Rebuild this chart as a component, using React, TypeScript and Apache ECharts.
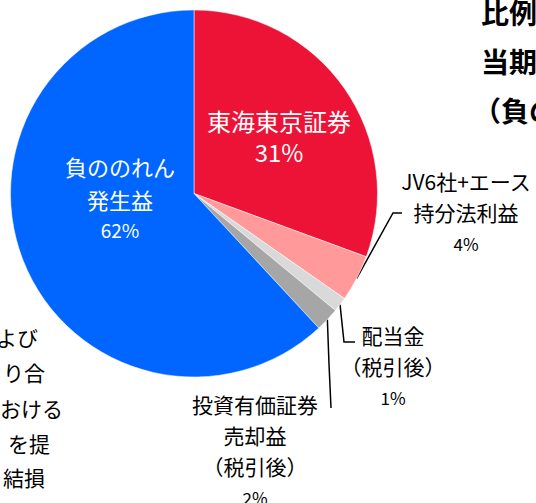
import React, { useEffect, useRef } from "react";
import * as echarts from "echarts";

const categories = [
  "東海東京証券",
  "JV6社+エース\n持分法利益",
  "配当金\n（税引後）",
  "投資有価証券\n売却益\n（税引後）",
  "負ののれん\n発生益",
];
const values = [30.6, 4.1, 1.3, 2.1, 61.9];
const sliceColors = ["#EC1337", "#FF999A", "#D9D9D9", "#A6A6A6", "#0066FF"];
const headingLines = ["比例", "当期", "（負の"];
const sideTextLines = ["よび", "り合", "おける", "を提", "結損"];

const FONT = "'Noto Sans CJK JP', 'Noto Sans', sans-serif";

export default function App() {
  const ref = useRef<HTMLDivElement>(null);

  useEffect(() => {
    if (!ref.current) return;
    const chart = echarts.init(ref.current, undefined, { renderer: "svg" });

    const inside = [0, 4];
    const spots: any[] = [
      { x: 279, y: 136, v: "middle" },
      { x: 466, y: 165, v: "top", pts: [[393, 213], [402, 213]] },
      { x: 393, y: 319, v: "top", pts: [[344, 342], [355, 342]] },
      { x: 255, y: 388, v: "top", pts: [[329, 364], [331, 408]] },
      { x: 120, y: 149, v: "top" },
    ];

    const richFor = (i: number) => {
      if (i === 0)
        return {
          n: { fontSize: 24, lineHeight: 31, color: "#fff", fontFamily: FONT, align: "center" },
          p: { fontSize: 24, lineHeight: 31, color: "#fff", fontFamily: FONT, align: "center" },
        };
      if (i === 4)
        return {
          n: { fontSize: 22, lineHeight: 33, color: "#fff", fontFamily: FONT, align: "center" },
          p: { fontSize: 19, lineHeight: 28, color: "#fff", fontFamily: FONT, align: "center" },
        };
      return {
        n: { fontSize: 21, lineHeight: 31, color: "#000", fontFamily: FONT, align: "center" },
        p: { fontSize: 17, lineHeight: 32, color: "#000", fontFamily: FONT, align: "center" },
      };
    };

    const data = categories.map((name, i) => ({
      name,
      value: values[i],
      itemStyle: { color: sliceColors[i] },
      label: {
        show: true,
        position: inside.includes(i) ? "inside" : "outside",
        rich: richFor(i),
      },
      labelLine: {
        show: !inside.includes(i),
        lineStyle: { color: "#000", width: 1.5 },
      },
    }));

    const headingX = [481, 481, 473];

    chart.setOption({
      animation: false,
      series: [
        {
          type: "pie",
          center: [194, 193.5],
          radius: [0, 183.5],
          startAngle: 90,
          clockwise: true,
          avoidLabelOverlap: false,
          itemStyle: { borderColor: "#fff", borderWidth: 0.5 },
          label: {
            formatter: (p: any) => `{n|${p.name}}\n{p|${Math.round(p.percent)}%}`,
            fontFamily: FONT,
          },
          labelLayout: (p: any) => {
            const s = spots[p.dataIndex];
            const res: any = { x: s.x, y: s.y, align: "center", verticalAlign: s.v };
            if (s.pts && p.labelLinePoints && p.labelLinePoints[0]) {
              res.labelLinePoints = [p.labelLinePoints[0], ...s.pts];
            }
            return res;
          },
          data,
        },
      ],
      graphic: [
        ...headingLines.map((t, i) => ({
          type: "text",
          x: headingX[i],
          y: 12 + i * 49,
          style: {
            text: t,
            fill: "#000",
            font: `bold 28px ${FONT}`,
            textVerticalAlign: "middle",
          },
        })),
        ...sideTextLines.map((t, i) => {
          const ends = [38, 45, 63, 50, 45];
          const ys = [337, 372, 408, 443, 477];
          return {
            type: "text",
            x: ends[i],
            y: ys[i],
            style: {
              text: t,
              fill: "#000",
              font: `21px ${FONT}`,
              textAlign: "right",
              textVerticalAlign: "middle",
            },
          };
        }),
      ],
    });

    return () => chart.dispose();
  }, []);

  return (
    <div
      ref={ref}
      style={{ position: "absolute", left: 0, top: 0, width: 536, height: 503, background: "#fff" }}
    />
  );
}
